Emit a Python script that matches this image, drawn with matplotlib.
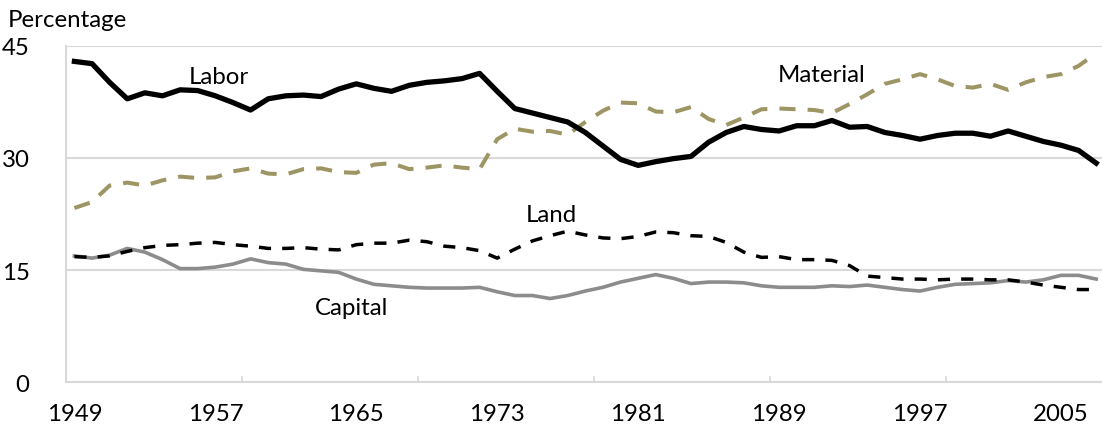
import matplotlib
matplotlib.use("Agg")
import matplotlib.pyplot as plt
import numpy as np

years = list(range(1949, 2008))

labor = [42.9, 42.6, 40.1, 37.9, 38.7, 38.3, 39.1, 39.0, 38.3, 37.4,
         36.4, 37.9, 38.3, 38.4, 38.2, 39.2, 39.9, 39.3, 38.9, 39.7,
         40.1, 40.3, 40.6, 41.3, 38.9, 36.6, 36.0, 35.4, 34.8, 33.4,
         31.6, 29.8, 29.0, 29.5, 29.9, 30.2, 32.1, 33.4, 34.2, 33.8,
         33.6, 34.3, 34.3, 35.0, 34.1, 34.2, 33.4, 33.0, 32.5, 33.0,
         33.3, 33.3, 32.9, 33.6, 32.9, 32.2, 31.7, 31.0, 29.3]

material = [23.3, 24.1, 26.3, 26.7, 26.3, 27.0, 27.5, 27.3, 27.4, 28.2,
            28.6, 27.9, 27.8, 28.5, 28.6, 28.1, 28.0, 29.1, 29.3, 28.5,
            28.7, 29.0, 28.7, 28.5, 32.5, 33.9, 33.5, 33.6, 33.1, 34.8,
            36.3, 37.4, 37.3, 36.2, 36.1, 36.8, 35.2, 34.4, 35.4, 36.5,
            36.6, 36.5, 36.4, 36.0, 37.2, 38.5, 39.9, 40.5, 41.2, 40.5,
            39.6, 39.4, 39.9, 39.1, 40.1, 40.8, 41.2, 42.3, 44.0]

land = [16.8, 16.7, 16.9, 17.5, 18.0, 18.3, 18.4, 18.6, 18.7, 18.4,
        18.2, 17.9, 17.9, 18.0, 17.8, 17.7, 18.4, 18.6, 18.6, 19.0,
        18.8, 18.2, 18.0, 17.6, 16.6, 17.8, 18.9, 19.6, 20.2, 19.7,
        19.3, 19.2, 19.5, 20.1, 20.0, 19.6, 19.5, 18.7, 17.4, 16.7,
        16.8, 16.4, 16.4, 16.3, 15.6, 14.2, 14.0, 13.8, 13.8, 13.7,
        13.8, 13.8, 13.7, 13.7, 13.4, 13.0, 12.7, 12.4, 12.4]

capital = [16.9, 16.6, 17.0, 17.9, 17.4, 16.4, 15.2, 15.2, 15.4, 15.8,
           16.5, 16.0, 15.8, 15.1, 14.9, 14.7, 13.8, 13.1, 12.9, 12.7,
           12.6, 12.6, 12.6, 12.7, 12.1, 11.6, 11.6, 11.2, 11.6, 12.2,
           12.7, 13.4, 13.9, 14.4, 13.9, 13.2, 13.4, 13.4, 13.3, 12.9,
           12.7, 12.7, 12.7, 12.9, 12.8, 13.0, 12.7, 12.4, 12.2, 12.7,
           13.1, 13.2, 13.3, 13.6, 13.4, 13.7, 14.3, 14.3, 13.8]

yticks = [0, 15, 30, 45]
label_years = [1949, 1957, 1965, 1973, 1981, 1989, 1997, 2005]

FONT = ["Lato", "DejaVu Sans"]
plt.rcParams['font.family'] = FONT
FS = 17.3

W, H = 1102, 431
fig = plt.figure(figsize=(W / 100, H / 100), dpi=100)
left_px, right_px, top_px, bot_px = 65.6, 1105.0, 46.7, 383.3
ax = fig.add_axes([left_px / W, 1 - bot_px / H, (right_px - left_px) / W, (bot_px - top_px) / H])

x = np.arange(len(years))
grid_c = "#D9D9D9"

ax.plot(x, capital, color="#8C8C8C", lw=2.6, solid_joinstyle="round", zorder=3)
ax.plot(x, land, color="#000000", lw=2.5, linestyle=(0, (3.5, 3.2)), zorder=4)
ax.plot(x, material, color="#9E9564", lw=2.9, linestyle=(0, (4, 3)), zorder=4)
ax.plot(x, labor, color="#000000", lw=3.8, solid_joinstyle="round", zorder=5)

ax.set_xlim(-0.5, len(years) - 0.5)
ax.set_ylim(0, 45)
ax.set_yticks(yticks)
ax.set_yticklabels([str(v) for v in yticks], fontsize=FS)
ax.yaxis.grid(True, color=grid_c, lw=1.5)
ax.set_axisbelow(True)
ax.tick_params(axis='y', length=0, pad=26)

pos = [years.index(y) for y in label_years]
ax.set_xticks(pos)
ax.set_xticklabels([str(y) for y in label_years], fontsize=FS)
ax.tick_params(axis='x', which='major', length=0, pad=15)
ax.set_xticks([9.5, 19.5, 29.5, 39.5, 49.5], minor=True)
ax.tick_params(axis='x', which='minor', direction='in', length=4.5, width=1.2, color=grid_c)

for s in ['top', 'right']:
    ax.spines[s].set_visible(False)
for s in ['left', 'bottom']:
    ax.spines[s].set_color(grid_c)
    ax.spines[s].set_linewidth(1.5)

ax.text(8.21, 39.97, "Labor", fontsize=FS, ha='center', va='baseline')
ax.text(42.43, 40.3, "Material", fontsize=FS, ha='center', va='baseline')
ax.text(27.05, 21.6, "Land", fontsize=FS, ha='center', va='baseline')
ax.text(15.73, 9.13, "Capital", fontsize=FS, ha='center', va='baseline')

fig.text(8 / W, 1 - 27 / H, "Percentage", fontsize=FS, ha='left', va='baseline')

fig.savefig("out.png", dpi=100)
